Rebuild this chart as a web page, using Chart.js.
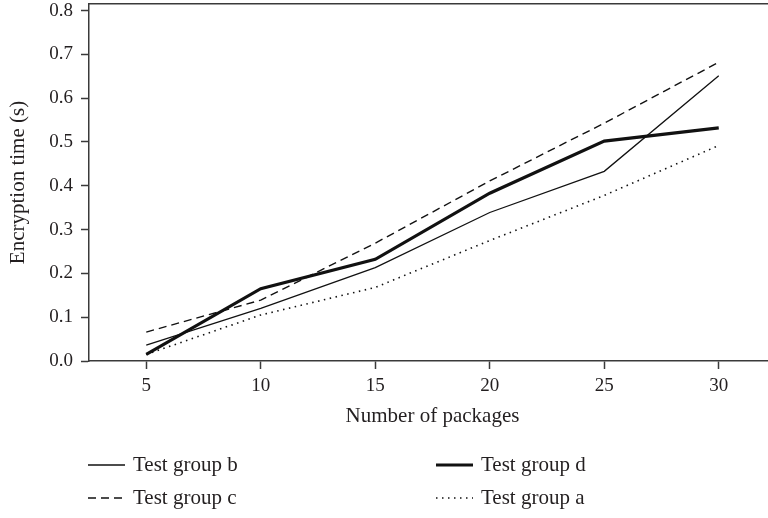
<!DOCTYPE html>
<html>
<head>
<meta charset="utf-8">
<script src="https://cdn.jsdelivr.net/npm/chart.js@4.4.1/dist/chart.umd.min.js"></script>
<style>
  html, body { margin: 0; padding: 0; background: #fff; overflow: hidden; }
  #wrap { width: 776px; height: 518px; }
</style>
</head>
<body>
<div id="wrap"><canvas id="chart" width="776" height="518"></canvas></div>
<script>
// values
const packages = [5, 10, 15, 20, 25, 30];
const groupA = [0.015, 0.105, 0.168, 0.275, 0.378, 0.492];
const groupB = [0.036, 0.120, 0.213, 0.339, 0.433, 0.651];
const groupC = [0.066, 0.139, 0.269, 0.411, 0.543, 0.682];
const groupD = [0.015, 0.165, 0.232, 0.383, 0.502, 0.532];

const xTicks = [5, 10, 15, 20, 25, 30];
const yTicks = [0, 0.1, 0.2, 0.3, 0.4, 0.5, 0.6, 0.7, 0.8];
const legendOrder = ['Test group b', 'Test group d', 'Test group c', 'Test group a'];

const serif = "'Liberation Serif', 'Times New Roman', serif";
const textColor = '#231f20';
const axisColor = '#3a3a3a';
const lineColor = '#111111';

const toPoints = (vals) => vals.map((v, i) => ({ x: packages[i], y: v }));

// two column legend under the axis title
const columnLegend = {
    id: 'columnLegend',
    afterDraw(chart) {
        const ctx = chart.ctx;
        const left = chart.chartArea.left;
        const cols = [left - 1, left + 347];
        const rows = [465, 498];
        legendOrder.forEach((label, i) => {
            const ds = chart.data.datasets.find(d => d.label === label);
            const x = cols[i % 2];
            const y = rows[Math.floor(i / 2)];
            ctx.save();
            ctx.strokeStyle = ds.borderColor;
            ctx.lineWidth = ds.borderWidth;
            ctx.setLineDash(ds.borderDash || []);
            ctx.beginPath();
            ctx.moveTo(x, y);
            ctx.lineTo(x + 37, y);
            ctx.stroke();
            ctx.setLineDash([]);
            ctx.fillStyle = textColor;
            ctx.font = '21px ' + serif;
            ctx.textBaseline = 'middle';
            ctx.fillText(label, x + 45, y);
            ctx.restore();
        });
    }
};

const axisGrid = {
    drawOnChartArea: false,
    drawTicks: true,
    tickLength: 8,
    tickWidth: 1.5,
    tickColor: axisColor
};

// keep tick label overflow from pushing the plot box around
const noPad = s => {
    s.paddingTop = 0;
    s.paddingBottom = 0;
    s.paddingLeft = 0;
    s.paddingRight = 0;
};

new Chart(document.getElementById('chart'), {
    type: 'line',
    data: {
        datasets: [{
            label: 'Test group b',
            data: toPoints(groupB),
            borderColor: lineColor,
            borderWidth: 1.3
        }, {
            label: 'Test group c',
            data: toPoints(groupC),
            borderColor: lineColor,
            borderWidth: 1.4,
            borderDash: [8, 5]
        }, {
            label: 'Test group a',
            data: toPoints(groupA),
            borderColor: lineColor,
            borderWidth: 1.6,
            borderDash: [1.5, 4.5]
        }, {
            label: 'Test group d',
            data: toPoints(groupD),
            borderColor: lineColor,
            borderWidth: 3.2
        }]
    },
    options: {
        responsive: false,
        animation: false,
        devicePixelRatio: 1,
        elements: {
            point: { radius: 0 },
            line: { tension: 0, fill: false }
        },
        layout: { padding: { top: 4, left: 0, right: 0, bottom: 80 } },
        scales: {
            x: {
                type: 'linear',
                min: 2.5,
                max: 32.5,
                afterBuildTicks: s => { s.ticks = xTicks.map(v => ({ value: v })); },
                afterFit: s => { s.height = 77; noPad(s); },
                grid: axisGrid,
                border: { display: true, color: axisColor, width: 1.5 },
                ticks: {
                    color: textColor,
                    font: { family: serif, size: 19 },
                    padding: 6,
                    maxRotation: 0
                },
                title: {
                    display: true,
                    text: 'Number of packages',
                    color: textColor,
                    font: { family: serif, size: 21 },
                    padding: { top: 0, bottom: 9 }
                }
            },
            xTop: {
                type: 'linear',
                position: 'top',
                min: 2.5,
                max: 32.5,
                afterFit: s => { s.height = 0; noPad(s); },
                ticks: { display: false },
                grid: { drawOnChartArea: false, drawTicks: false },
                border: { display: true, color: axisColor, width: 1.5 }
            },
            y: {
                min: 0,
                max: 0.815,
                afterBuildTicks: s => { s.ticks = yTicks.map(v => ({ value: v })); },
                afterFit: s => { s.width = 89; noPad(s); },
                grid: axisGrid,
                border: { display: true, color: axisColor, width: 1.5 },
                ticks: {
                    color: textColor,
                    font: { family: serif, size: 19 },
                    padding: 8,
                    callback: v => v.toFixed(1)
                },
                title: {
                    display: true,
                    text: 'Encryption time (s)',
                    color: textColor,
                    font: { family: serif, size: 21 },
                    padding: { top: 6, bottom: 0 }
                }
            }
        },
        plugins: {
            legend: { display: false },
            tooltip: { enabled: false }
        }
    },
    plugins: [columnLegend]
});
</script>
</body>
</html>
